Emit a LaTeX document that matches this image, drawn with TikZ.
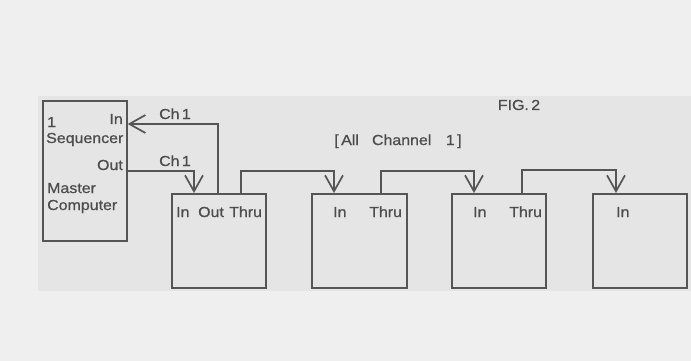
\documentclass[tikz,border=0pt]{standalone}
\usepackage{fontspec}
\setmainfont[FakeStretch=1.1, FakeBold=0.8]{Liberation Sans}
\usetikzlibrary{arrows.meta}
\definecolor{ink}{HTML}{555555}
\definecolor{txt}{HTML}{4D4D4D}
\definecolor{paper}{HTML}{EFEFEF}
\definecolor{screen}{HTML}{E5E5E5}
\tikzset{
  unit/.style={draw=ink, line width=1.7pt, anchor=north west, inner sep=0pt},
  lbl/.style={text=txt, font=\fontsize{14.5}{16}\selectfont, inner sep=0pt},
  wire/.style={draw=ink, line width=1.7pt},
  arr/.style={wire, -{Straight Barb[length=16pt, width=18pt, line width=1.7pt]}},
}
\begin{document}
\begin{tikzpicture}[x=1pt, y=-1pt]
\useasboundingbox (0,0) rectangle (691,361);
\fill[paper] (0,0) rectangle (691,361);
\fill[screen] (38,96) rectangle (691,291);
% boxes
\node[unit, minimum width=84pt, minimum height=140pt] (master) at (42,100) {};
\node[unit, minimum width=94pt, minimum height=94pt] (m1) at (171,193) {};
\node[unit, minimum width=95pt, minimum height=94pt] (m2) at (311,193) {};
\node[unit, minimum width=94pt, minimum height=94pt] (m3) at (451,193) {};
\node[unit, minimum width=94pt, minimum height=94pt] (m4) at (592,193) {};
% master labels
\node[lbl, anchor=base east] (mIn) at (123,124) {In};
\node[lbl, anchor=base west] (mOne) at (47,127) {1};
\node[lbl, anchor=base west] (mSeq) at (46,143) {Sequencer};
\node[lbl, anchor=base east] (mOut) at (123,170) {Out};
\node[lbl, anchor=base west] (mMas) at (47,193) {Master};
\node[lbl, anchor=base west] (mCom) at (47,210) {Computer};
% module labels
\node[lbl, anchor=base west] (l1a) at (176,217) {In};
\node[lbl, anchor=base west] (l1b) at (198,217) {Out};
\node[lbl, anchor=base west] (l1c) at (229,217) {Thru};
\node[lbl, anchor=base west] (l2a) at (333,217) {In};
\node[lbl, anchor=base west] (l2b) at (369,217) {Thru};
\node[lbl, anchor=base west] (l3a) at (473,217) {In};
\node[lbl, anchor=base west] (l3b) at (509,217) {Thru};
\node[lbl, anchor=base west] (l4a) at (616,217) {In};
% other texts
\node[lbl, anchor=base] (ch1a) at (175,119) {Ch\,1};
\node[lbl, anchor=base] (ch1b) at (175,166) {Ch\,1};
\node[lbl, anchor=base] (fig) at (519,110) {FIG.\,2};
\node[lbl, anchor=base] (all) at (398,145) {[\,All\hspace{0.9em}Channel\hspace{1em}1\,]};
% connectors
\draw[arr] ([xshift=47pt]m1.north west) |- ([yshift=-24pt]master.north east);
\draw[arr] ([yshift=-71pt]master.north east) -| ([xshift=23pt]m1.north west);
\draw[arr] ([xshift=70pt]m1.north west) |- ++(0,-22) -| ([xshift=23pt]m2.north west);
\draw[arr] ([xshift=70pt]m2.north west) |- ++(0,-22) -| ([xshift=23pt]m3.north west);
\draw[arr] ([xshift=71pt]m3.north west) |- ++(0,-23) -| ([xshift=24pt]m4.north west);
\end{tikzpicture}
\end{document}
